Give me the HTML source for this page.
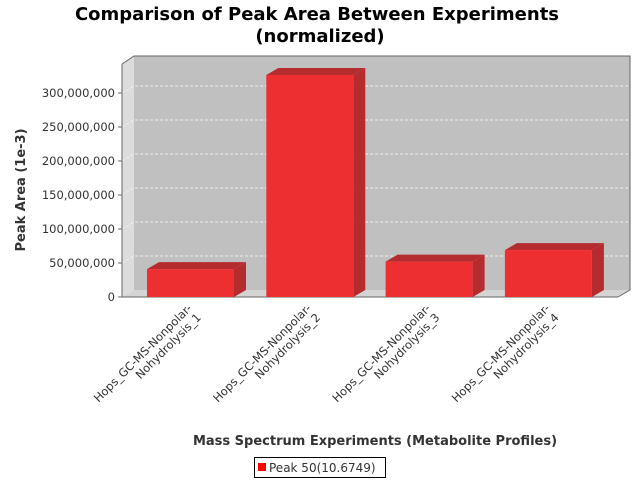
<!DOCTYPE html>
<html><head><meta charset="utf-8"><style>
body{margin:0;background:#fff;}
svg{display:block;font-family:"DejaVu Sans","Liberation Sans",sans-serif;}
</style></head><body>
<svg width="640" height="480">
<text x="317" y="20" text-anchor="middle" font-size="18" font-weight="bold" fill="#000">Comparison of Peak Area Between Experiments</text>
<text x="320" y="42" text-anchor="middle" font-size="18" font-weight="bold" fill="#000">(normalized)</text>
<g id="plot"></g>
<text transform="translate(25,190) rotate(-90)" text-anchor="middle" font-size="13" font-weight="bold" fill="#333">Peak Area (1e-3)</text>
<text x="375" y="445" text-anchor="middle" font-size="13" font-weight="bold" fill="#333">Mass Spectrum Experiments (Metabolite Profiles)</text>
<g>
<rect x="254.5" y="457.5" width="131" height="20" fill="#fff" stroke="#000"/>
<rect x="258" y="463" width="8" height="8" fill="#f00"/>
<text x="269" y="472" font-size="12" fill="#333">Peak 50(10.6749)</text>
</g>
</svg>
<script>
const categories=["Hops_GC-MS-Nonpolar-|Nohydrolysis_1","Hops_GC-MS-Nonpolar-|Nohydrolysis_2","Hops_GC-MS-Nonpolar-|Nohydrolysis_3","Hops_GC-MS-Nonpolar-|Nohydrolysis_4"];
const values=[41000000,326500000,52000000,69000000];
const ticks=[0,50000000,100000000,150000000,200000000,250000000,300000000];
const tickLabels=["0","50,000,000","100,000,000","150,000,000","200,000,000","250,000,000","300,000,000"];
const NS="http://www.w3.org/2000/svg";
const g=document.getElementById('plot');
const X0=122,X1=618,Y0=297,DX=12,DY=7;
const y=v=>Y0-v*68/100000000;
const barX=i=>147+i*119.3;
const BW=87;
function mk(t,a,p){const e=document.createElementNS(NS,t);for(const k in a)e.setAttribute(k,a[k]);(p||g).appendChild(e);return e;}
let e=mk('rect',{x:X0+DX,y:56,width:X1-X0,height:Y0-DY-56,fill:'#c0c0c0'});


e=mk('polygon',{points:`${X0},64 ${X0+DX},56 ${X0+DX},${Y0-DY} ${X0},${Y0}`,fill:'#dcdcdc'});


e=mk('polygon',{points:`${X0},${Y0} ${X0+DX},${Y0-DY} ${X1+DX},${Y0-DY} ${X1},${Y0}`,fill:'#d4d4d4'});


ticks.forEach((t,i)=>{
 const yy=y(t);
 if(t>0){e=mk('polyline',{points:`${X0},${yy} ${X0+DX},${yy-DY} ${X1+DX},${yy-DY}`,fill:'none',stroke:'#eee','stroke-width':1,'stroke-dasharray':'3,2'});
 
 }
 mk('line',{x1:X0-4,y1:yy,x2:X0,y2:yy,stroke:'#666'});
 e=mk('text',{x:X0-7,y:yy+4,'text-anchor':'end','font-size':11.5,fill:'#333'});
 e.textContent=tickLabels[i];
 
 
});
mk('polyline',{points:`${X1},${Y0} ${X1+DX},${Y0-DY} ${X1+DX},56 ${X0+DX},56 ${X0},64`,fill:'none',stroke:'#666'});
mk('line',{x1:X0,y1:64,x2:X0,y2:Y0,stroke:'#666'});
mk('line',{x1:X0,y1:Y0,x2:X1,y2:Y0,stroke:'#666'});
values.forEach((v,i)=>{
 const x=barX(i),t=y(v);
 const bg=mk('g',{});
 
 
 mk('polygon',{points:`${x},${t} ${x+DX},${t-DY} ${x+BW+DX},${t-DY} ${x+BW},${t}`,fill:'#b52c2f'},bg);
 mk('polygon',{points:`${x+BW},${t} ${x+BW+DX},${t-DY} ${x+BW+DX},${Y0-DY} ${x+BW},${Y0}`,fill:'#b52c2f'},bg);
 mk('rect',{x:x,y:t,width:BW,height:Y0-t,fill:'#ee2f32'},bg);
 const cx=x+BW/2+2, cy=309;
 const lines=categories[i].split('|');
 const tx=mk('text',{transform:`translate(${cx},${cy}) rotate(-45)`,'text-anchor':'end','font-size':11.5,fill:'#333'});
 
 
 lines.forEach((l,j)=>{const s=mk('tspan',{x:0,dy:j?13:0},tx);s.textContent=l;});
});
</script>
</body></html>
